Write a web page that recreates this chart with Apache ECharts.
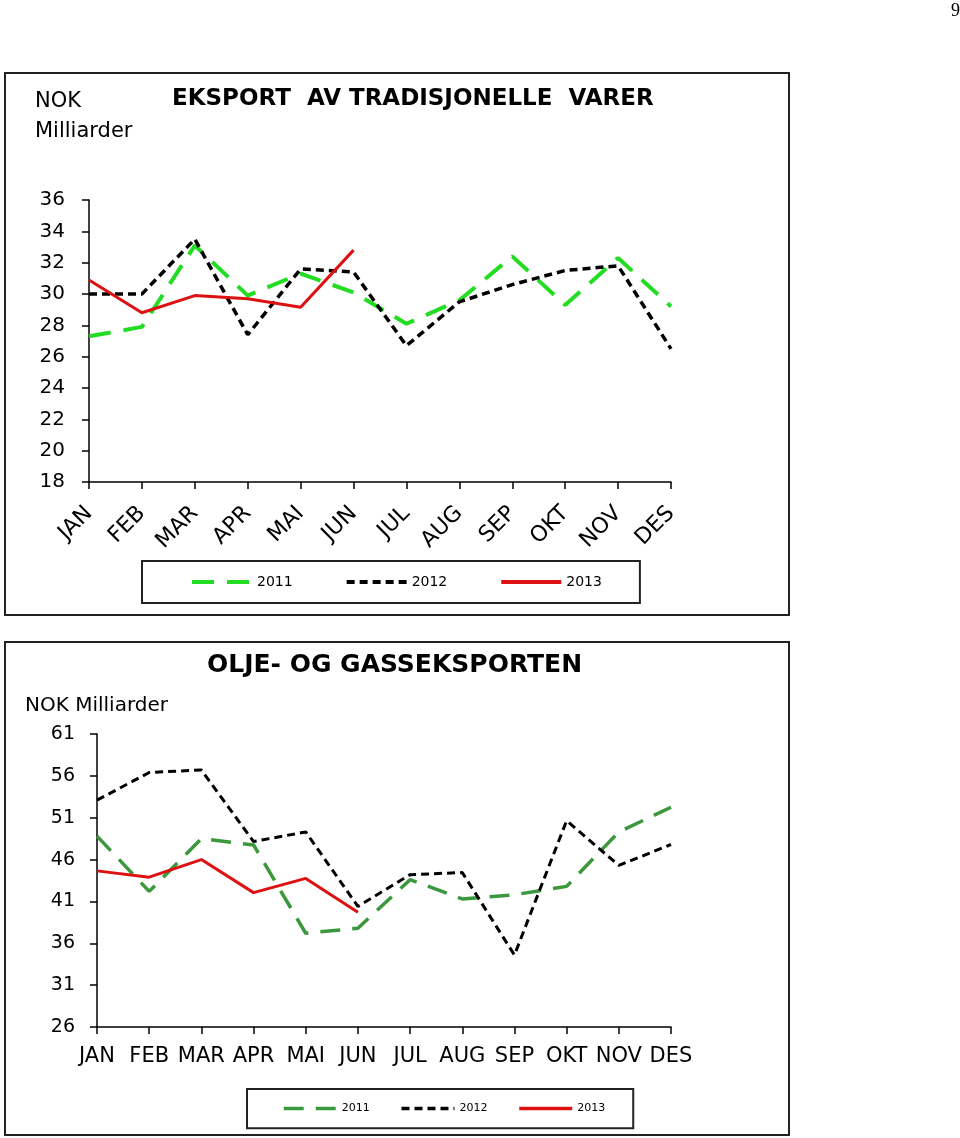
<!DOCTYPE html>
<html>
<head>
<meta charset="utf-8">
<script src="https://cdn.jsdelivr.net/npm/echarts@6/dist/echarts.min.js"></script>
<style>
  html, body { margin: 0; padding: 0; background: #fff; }
  #main { width: 960px; height: 1138px; }
</style>
</head>
<body>
<div id="main"></div>
<script>
var months = ['JAN','FEB','MAR','APR','MAI','JUN','JUL','AUG','SEP','OKT','NOV','DES'];

// eksport av tradisjonelle varer
var trad2011 = [27.3, 27.9, 33.1, 29.9, 31.3, 30.1, 28.1, 29.6, 32.4, 29.3, 32.3, 29.2];
var trad2012 = [30.0, 30.0, 33.5, 27.4, 31.6, 31.4, 26.7, 29.5, 30.6, 31.5, 31.8, 26.5];
var trad2013 = [30.9, 28.8, 29.9, 29.7, 29.15, 32.8];

// olje- og gasseksporten
var olje2011 = [48.8, 42.2, 48.5, 47.75, 37.2, 37.8, 43.6, 41.3, 41.8, 42.8, 49.3, 52.25];
var olje2012 = [53.1, 56.4, 56.7, 48.15, 49.3, 40.4, 44.2, 44.45, 34.6, 50.65, 45.3, 47.8];
var olje2013 = [44.65, 43.9, 46.0, 42.05, 43.75, 39.7];

var font = 'DejaVu Sans';
var chart = echarts.init(document.getElementById('main'));

var axisLine = { lineStyle: { color: '#000', width: 1.5 } };
var axisTick = { show: true, length: 7, lineStyle: { color: '#000', width: 1.5 } };

var option = {
	animation: false,
	textStyle: { fontFamily: font, color: '#000' },
	graphic: [
		{ type: 'rect', shape: { x: 5, y: 73, width: 784, height: 542 }, style: { fill: 'none', stroke: '#222', lineWidth: 2 } },
		{ type: 'rect', shape: { x: 5, y: 642, width: 784, height: 493 }, style: { fill: 'none', stroke: '#222', lineWidth: 2 } },
		{ type: 'text', left: 951, top: 2, style: { text: '9', font: '18px "Liberation Serif"', fill: '#000' } },
		{ type: 'text', left: 35, top: 87, style: { text: 'NOK\nMilliarder', font: '21px ' + font, lineHeight: 30, fill: '#000' } },
		{ type: 'text', left: 172, top: 88, style: { text: 'EKSPORT  AV TRADISJONELLE  VARER', font: 'bold 23px ' + font, fill: '#000' } },
		{ type: 'text', left: 207, top: 653, style: { text: 'OLJE- OG GASSEKSPORTEN', font: 'bold 25px ' + font, fill: '#000' } },
		{ type: 'text', left: 25, top: 696, style: { text: 'NOK Milliarder', font: '20px ' + font, fill: '#000' } }
	],
	legend: [{
		left: 142, top: 561,
		padding: [14, 38, 14, 48],
		borderColor: '#222', borderWidth: 2,
		itemWidth: 60, itemHeight: 14, itemGap: 52,
		itemStyle: { opacity: 0 },
		lineStyle: { width: 4 },
		textStyle: { fontSize: 14, color: '#000' },
		data: ['2011', '2012', '2013']
	}, {
		left: 247, top: 1089,
		padding: [14, 28, 14, 35],
		borderColor: '#222', borderWidth: 2,
		itemWidth: 53, itemHeight: 14, itemGap: 30,
		itemStyle: { opacity: 0 },
		lineStyle: { width: 3.5 },
		textStyle: { fontSize: 11, color: '#000' },
		formatter: function (n) { return n.trim(); },
		data: ['2011 ', '2012 ', '2013 ']
	}],
	grid: [
		{ left: 89, right: 289, top: 200, bottom: 656 },
		{ left: 97, right: 289, top: 734, bottom: 111 }
	],
	xAxis: [{
		gridIndex: 0, type: 'category', boundaryGap: false, data: months,
		axisLine: axisLine, axisTick: axisTick,
		axisLabel: { interval: 0, rotate: 45, margin: 28, fontSize: 22, color: '#000' },
		splitLine: { show: false }
	}, {
		gridIndex: 1, type: 'category', boundaryGap: false, data: months,
		axisLine: axisLine, axisTick: axisTick,
		axisLabel: { interval: 0, margin: 19, fontSize: 21, color: '#000' },
		splitLine: { show: false }
	}],
	yAxis: [{
		gridIndex: 0, type: 'value', min: 18, max: 36, interval: 2,
		axisLine: { show: true, lineStyle: { color: '#000', width: 1.5 } }, axisTick: axisTick,
		axisLabel: { margin: 24, fontSize: 20, color: '#000' },
		splitLine: { show: false }
	}, {
		gridIndex: 1, type: 'value', min: 26, max: 61, interval: 5,
		axisLine: { show: true, lineStyle: { color: '#000', width: 1.5 } }, axisTick: axisTick,
		axisLabel: { margin: 22, fontSize: 19, color: '#000' },
		splitLine: { show: false }
	}],
	series: [
		{ name: '2011', type: 'line', xAxisIndex: 0, yAxisIndex: 0, symbol: 'none', data: trad2011,
			color: '#22dd22', lineStyle: { color: '#22dd22', width: 4, type: [22, 13] } },
		{ name: '2012', type: 'line', xAxisIndex: 0, yAxisIndex: 0, symbol: 'none', data: trad2012,
			color: '#000', lineStyle: { color: '#000', width: 3.5, type: [8, 5] } },
		{ name: '2013', type: 'line', xAxisIndex: 0, yAxisIndex: 0, symbol: 'none', data: trad2013,
			color: '#dd1111', lineStyle: { color: '#dd1111', width: 3 } },
		{ name: '2011 ', type: 'line', xAxisIndex: 1, yAxisIndex: 1, symbol: 'none', data: olje2011,
			color: '#3c983c', lineStyle: { color: '#3c983c', width: 3.5, type: [20, 12] } },
		{ name: '2012 ', type: 'line', xAxisIndex: 1, yAxisIndex: 1, symbol: 'none', data: olje2012,
			color: '#000', lineStyle: { color: '#000', width: 3, type: [8, 5] } },
		{ name: '2013 ', type: 'line', xAxisIndex: 1, yAxisIndex: 1, symbol: 'none', data: olje2013,
			color: '#dd1111', lineStyle: { color: '#dd1111', width: 3 } }
	]
};

chart.setOption(option);
</script>
</body>
</html>
